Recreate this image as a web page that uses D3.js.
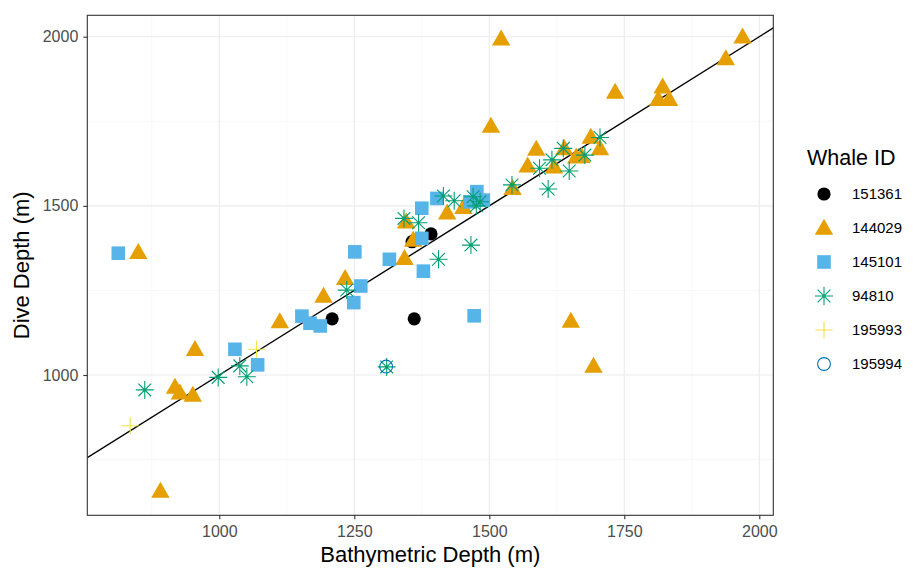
<!DOCTYPE html>
<html>
<head>
<meta charset="utf-8">
<style>
  body { margin: 0; background: #fff; }
  text { font-family: "Liberation Sans", Arial, sans-serif; }
  .grid-major { stroke: #ebebeb; stroke-width: 1.1; }
  .grid-minor { stroke: #f2f2f2; stroke-width: 0.6; }
  .tick-label { fill: #4d4d4d; font-size: 16px; }
</style>
</head>
<body>
<svg id="chart" width="914" height="568"></svg>
<script src="https://d3js.org/d3.v7.min.js"></script>
<script>
// tick values
const xTicks = [1000, 1250, 1500, 1750, 2000]
const xMinor = [875, 1125, 1375, 1625, 1875]
const yTicks = [1000, 1500, 2000]
const yMinor = [750, 1250, 1750]

const whaleIds = ["151361", "144029", "145101", "94810", "195993", "195994"]

// [bathymetric depth, dive depth] per whale
const w151361 = [[1209, 1166], [1361, 1166], [1357, 1394], [1392, 1417]]
const w144029 = [
  [850, 1363], [891, 657], [955, 1076], [918, 965], [927, 948], [951, 941],
  [1112, 1158], [1193, 1234], [1233, 1286], [1343, 1345], [1359, 1399],
  [1346, 1453], [1422, 1480], [1452, 1496], [1522, 1994], [1503, 1736],
  [1543, 1552], [1571, 1619], [1587, 1668], [1620, 1616], [1639, 1670],
  [1661, 1645], [1671, 1647], [1688, 1704], [1705, 1670], [1733, 1837],
  [1821, 1852], [1813, 1815], [1833, 1815], [1938, 1936], [1969, 2000],
  [1651, 1160], [1693, 1027]
]
const w145101 = [
  [813, 1360], [1029, 1076], [1071, 1030], [1153, 1174], [1168, 1153],
  [1187, 1145], [1262, 1263], [1249, 1214], [1378, 1307], [1251, 1364],
  [1315, 1342], [1375, 1404], [1375, 1493], [1403, 1522], [1477, 1542],
  [1489, 1517], [1464, 1512], [1472, 1175]
]
const w94810 = [
  [862, 956], [998, 993], [1038, 1027], [1051, 995], [1236, 1251],
  [1310, 1024], [1342, 1463], [1369, 1450], [1406, 1342], [1466, 1384],
  [1415, 1529], [1435, 1515], [1470, 1527], [1483, 1512], [1476, 1500],
  [1542, 1562], [1593, 1611], [1609, 1550], [1616, 1636], [1637, 1670],
  [1648, 1603], [1677, 1650], [1705, 1702]
]
const w195993 = [[835, 850], [1069, 1076]]
const w195994 = [[1309, 1025]]

const series = [w151361, w144029, w145101, w94810, w195993, w195994]

// 1:1 reference line
const lineIntercept = 0
const lineSlope = 1

const colors = ["#000000", "#E69F00", "#56B4E9", "#009E73", "#F0E442", "#0072B2"]

const svg = d3.select("#chart")
const pLeft = 87.3, pRight = 773.3, pTop = 15.3, pBottom = 515.3

const x = d3.scaleLinear().domain([755.6, 2025.9]).range([pLeft, pRight])
const y = d3.scaleLinear().domain([585.3, 2063.3]).range([pBottom, pTop])

// grid
const grid = svg.append("g")
grid.selectAll(".xm").data(xMinor).join("line").attr("class", "grid-minor")
  .attr("x1", d => x(d)).attr("x2", d => x(d)).attr("y1", pTop).attr("y2", pBottom)
grid.selectAll(".ym").data(yMinor).join("line").attr("class", "grid-minor")
  .attr("y1", d => y(d)).attr("y2", d => y(d)).attr("x1", pLeft).attr("x2", pRight)
grid.selectAll(".xM").data(xTicks).join("line").attr("class", "grid-major")
  .attr("x1", d => x(d)).attr("x2", d => x(d)).attr("y1", pTop).attr("y2", pBottom)
grid.selectAll(".yM").data(yTicks).join("line").attr("class", "grid-major")
  .attr("y1", d => y(d)).attr("y2", d => y(d)).attr("x1", pLeft).attr("x2", pRight)

// clip for the reference line
svg.append("clipPath").attr("id", "panel").append("rect")
  .attr("x", pLeft).attr("y", pTop).attr("width", pRight - pLeft).attr("height", pBottom - pTop)

const [x0, x1] = x.domain()
svg.append("line")
  .attr("clip-path", "url(#panel)")
  .attr("x1", x(x0)).attr("y1", y(lineIntercept + lineSlope * x0))
  .attr("x2", x(x1)).attr("y2", y(lineIntercept + lineSlope * x1))
  .attr("stroke", "#000").attr("stroke-width", 1.4)

// point shapes
function drawShape(g, i, color) {
  if (i === 0) {
    g.append("circle").attr("r", 6.6).attr("fill", color)
  } else if (i === 1) {
    g.append("path").attr("d", "M0,-9.2L9.2,6.8L-9.2,6.8Z").attr("fill", color)
  } else if (i === 2) {
    g.append("rect").attr("x", -6.8).attr("y", -6.8).attr("width", 13.6).attr("height", 13.6).attr("fill", color)
  } else if (i === 3) {
    const r = 9, d = r * Math.SQRT1_2
    g.append("path")
      .attr("d", `M${-r},0L${r},0M0,${-r}L0,${r}M${-d},${-d}L${d},${d}M${-d},${d}L${d},${-d}`)
      .attr("stroke", color).attr("stroke-width", 1.1).attr("fill", "none")
  } else if (i === 4) {
    const r = 8.5
    g.append("path").attr("d", `M${-r},0L${r},0M0,${-r}L0,${r}`)
      .attr("stroke", color).attr("stroke-width", 1.1).attr("fill", "none")
  } else {
    g.append("circle").attr("r", 6.4).attr("fill", "none")
      .attr("stroke", color).attr("stroke-width", 1.1)
  }
}

series.forEach((pts, i) => {
  svg.append("g").selectAll("g").data(pts).join("g")
    .attr("transform", d => `translate(${x(d[0])},${y(d[1])})`)
    .each(function () { drawShape(d3.select(this), i, colors[i]) })
})

// panel border
svg.append("rect").attr("x", pLeft).attr("y", pTop)
  .attr("width", pRight - pLeft).attr("height", pBottom - pTop)
  .attr("fill", "none").attr("stroke", "#333").attr("stroke-width", 1.1)

// axes
const fmt = d3.format("d")
const xAxis = svg.append("g").attr("transform", `translate(0,${pBottom})`)
  .call(d3.axisBottom(x).tickValues(xTicks).tickFormat(fmt).tickSize(4).tickPadding(6))
const yAxis = svg.append("g").attr("transform", `translate(${pLeft},0)`)
  .call(d3.axisLeft(y).tickValues(yTicks).tickFormat(fmt).tickSize(4).tickPadding(5))
;[xAxis, yAxis].forEach(a => {
  a.attr("font-family", null).attr("font-size", null)
  a.select(".domain").remove()
  a.selectAll(".tick line").attr("stroke", "#333").attr("stroke-width", 1.1)
  a.selectAll(".tick text").attr("class", "tick-label")
})

svg.append("text").attr("x", (pLeft + pRight) / 2).attr("y", 562)
  .attr("text-anchor", "middle").attr("font-size", 22).text("Bathymetric Depth (m)")
svg.append("text").attr("transform", `translate(29,${(pTop + pBottom) / 2}) rotate(-90)`)
  .attr("text-anchor", "middle").attr("font-size", 22).text("Dive Depth (m)")

// legend
const legend = svg.append("g")
legend.append("text").attr("x", 807).attr("y", 165).attr("font-size", 21.5).text("Whale ID")
whaleIds.forEach((id, i) => {
  const ky = 194 + i * 34
  const g = legend.append("g").attr("transform", `translate(824,${ky})`)
  drawShape(g, i, colors[i])
  legend.append("text").attr("x", 852).attr("y", ky + 5).attr("font-size", 15).text(id)
})
</script>
</body>
</html>
